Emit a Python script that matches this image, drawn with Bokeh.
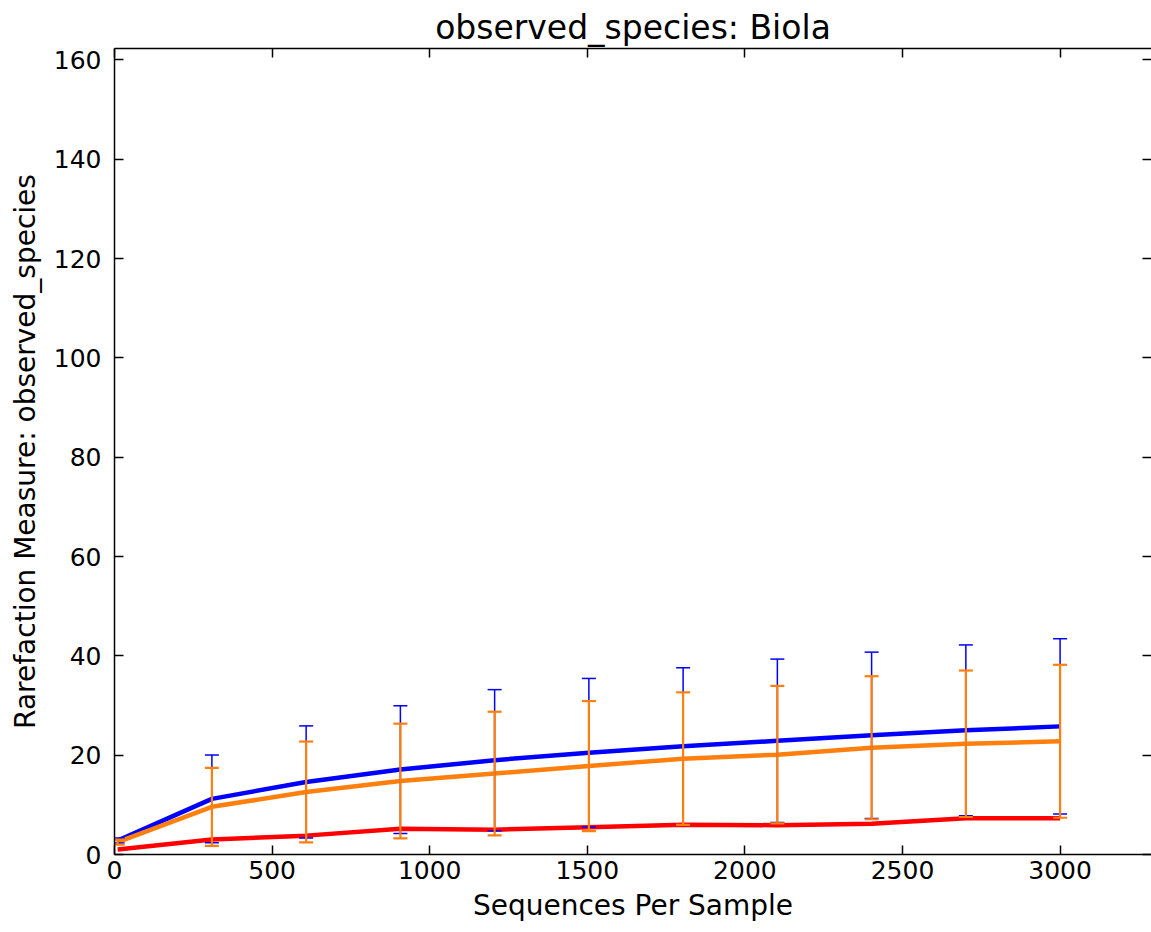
from bokeh.plotting import figure
from bokeh.models import (LinearAxis, Range1d, FixedTicker, Whisker, ColumnDataSource, TeeHead,
                          Title, CustomJSTickFormatter)
from bokeh.embed import file_html
from bokeh.resources import INLINE

# ---- data ----
seqs_per_sample = [10, 309, 608, 907, 1206, 1505, 1804, 2103, 2402, 2701, 3000]

blue_mean = [2.8, 11.2, 14.6, 17.1, 19.0, 20.5, 21.8, 22.9, 24.0, 25.0, 25.8]
blue_std = [0.5, 8.85, 11.3, 12.85, 14.2, 14.95, 15.8, 16.45, 16.75, 17.2, 17.65]

orange_mean = [2.5, 9.6, 12.6, 14.8, 16.3, 17.8, 19.3, 20.1, 21.5, 22.3, 22.8]
orange_std = [0.5, 7.85, 10.15, 11.55, 12.45, 13.1, 13.35, 13.85, 14.4, 14.75, 15.4]

red_mean = [1.0, 3.0, 3.8, 5.2, 5.0, 5.5, 6.0, 5.9, 6.2, 7.3, 7.3]

x_ticks = [0, 500, 1000, 1500, 2000, 2500, 3000]
y_ticks = [0, 20, 40, 60, 80, 100, 120, 140, 160]

title_text = "observed_species: Biola"
x_label = "Sequences Per Sample"
y_label = "Rarefaction Measure: observed_species"

BLUE = "#0000ff"
ORANGE = "#ff7f0e"
RED = "#ff0000"
FONT = "DejaVu Sans"

p = figure(width=1151, height=932, output_backend="svg", toolbar_location=None,
           x_range=Range1d(0, 3290), y_range=Range1d(0, 162.3),
           min_border_left=114, min_border_right=0, min_border_top=48, min_border_bottom=78)
p.background_fill_color = "white"
p.border_fill_color = "white"
p.outline_line_color = None
p.grid.visible = False

p.title = Title(text=title_text, align="center", text_font=FONT, text_font_size="33px",
                text_font_style="normal", text_color="black", standoff=4)


def style_axis(ax, show_labels=True, line=True):
    ax.major_tick_in = 9
    ax.major_tick_out = 0
    ax.minor_tick_in = 0
    ax.minor_tick_out = 0
    ax.major_tick_line_color = "black"
    ax.major_tick_line_width = 1.5
    ax.axis_line_color = "black" if line else None
    ax.axis_line_width = 1.5
    ax.major_label_text_font = FONT
    ax.major_label_text_color = "black"
    ax.major_label_text_font_size = "25px"
    if not show_labels:
        ax.formatter = CustomJSTickFormatter(code="return ''")
        ax.major_label_standoff = 0


xa = p.xaxis[0]
ya = p.yaxis[0]
xa.ticker = FixedTicker(ticks=x_ticks)
ya.ticker = FixedTicker(ticks=y_ticks)
style_axis(xa)
style_axis(ya)
xa.major_label_standoff = 6
ya.major_label_standoff = 13
xa.axis_label = x_label
ya.axis_label = y_label
for ax in (xa, ya):
    ax.axis_label_text_font = FONT
    ax.axis_label_text_font_size = "28px"
    ax.axis_label_text_font_style = "normal"
    ax.axis_label_text_color = "black"
xa.axis_label_standoff = 7
ya.axis_label_standoff = 9

top_ax = LinearAxis(ticker=FixedTicker(ticks=x_ticks))
style_axis(top_ax, show_labels=False)
p.add_layout(top_ax, "above")
right_ax = LinearAxis(ticker=FixedTicker(ticks=y_ticks))
style_axis(right_ax, show_labels=False, line=False)
p.add_layout(right_ax, "right")


def add_series(mean, std, color, bar_width):
    if std is not None:
        src = ColumnDataSource(dict(x=seqs_per_sample,
                                    lo=[m - s for m, s in zip(mean, std)],
                                    hi=[m + s for m, s in zip(mean, std)]))
        w = Whisker(source=src, base="x", lower="lo", upper="hi", dimension="height",
                    line_color=color, line_width=bar_width, level="glyph",
                    upper_head=TeeHead(size=14, line_color=color, line_width=bar_width),
                    lower_head=TeeHead(size=14, line_color=color, line_width=bar_width))
        p.add_layout(w)
    p.line(seqs_per_sample, mean, line_color=color, line_width=4.5)


add_series(blue_mean, blue_std, BLUE, 1.5)
add_series(orange_mean, orange_std, ORANGE, 2.2)
add_series(red_mean, None, RED, 2)

open("out.html", "w").write(file_html(p, INLINE))
